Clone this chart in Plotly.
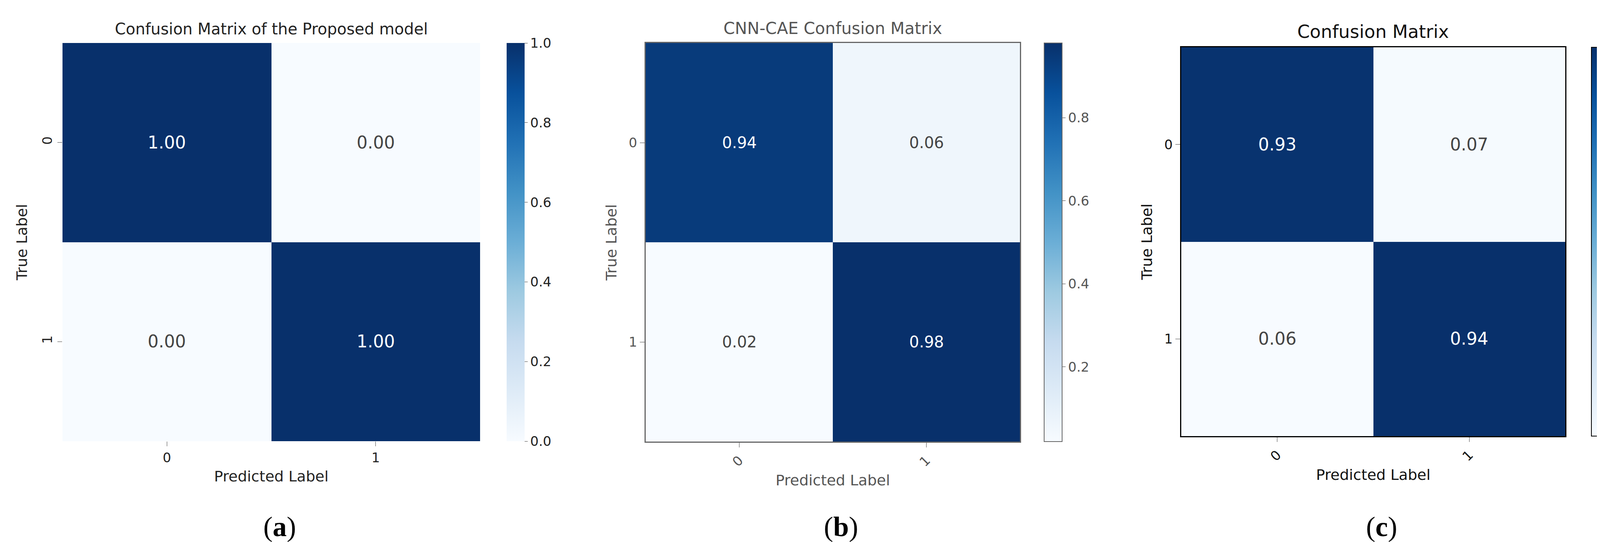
import plotly.graph_objects as go

labels = ["0", "1"]
cm_a = [[1.00, 0.00], [0.00, 1.00]]
cm_b = [[0.94, 0.06], [0.02, 0.98]]
cm_c = [[0.93, 0.07], [0.06, 0.94]]
titles = ["Confusion Matrix of the Proposed model", "CNN-CAE Confusion Matrix", "Confusion Matrix"]
panel_tags = ["a", "b", "c"]
cb_a = [0, 0.2, 0.4, 0.6, 0.8, 1.0]
cb_b = [0.2, 0.4, 0.6, 0.8]
cb_c = [0.1, 0.2, 0.3, 0.4, 0.5, 0.6, 0.7, 0.8, 0.9]

W, H = 4226, 1387
F = "DejaVu Sans"

panels = [
    dict(z=cm_a, x=(152, 1221), y=(102, 1121), cbx=1289, zr=(0, 1), cb=cb_a,
         frame=None, color="#222", tick=34, ann=44, title=40, xang=0, yang=-90),
    dict(z=cm_b, x=(1645, 2603), y=(102, 1122), cbx=2665, zr=(0.02, 0.98), cb=cb_b,
         frame="#666", color="#555", tick=34, ann=40, title=42, xang=-45, yang=0),
    dict(z=cm_c, x=(3016, 3999), y=(113, 1108), cbx=4066, zr=(0.06, 0.94), cb=cb_c,
         frame="#000", color="#111", tick=34, ann=44, title=46, xang=-45, yang=0),
]

fig = go.Figure()
layout = dict(width=W, height=H, margin=dict(l=0, r=0, t=0, b=0),
              paper_bgcolor="white", plot_bgcolor="white", annotations=[])
for i, p in enumerate(panels, start=1):
    xd = [p["x"][0] / W, p["x"][1] / W]
    yd = [1 - p["y"][1] / H, 1 - p["y"][0] / H]
    fig.add_trace(go.Heatmap(
        z=p["z"], x=labels, y=labels, colorscale="Blues", zmin=p["zr"][0], zmax=p["zr"][1],
        xaxis=f"x{i}", yaxis=f"y{i}",
        texttemplate="%{z:.2f}", textfont=dict(size=p["ann"], family=F),
        colorbar=dict(x=p["cbx"] / W, xanchor="left", xref="paper", xpad=0, ypad=0,
                      y=yd[0], yanchor="bottom",
                      len=yd[1] - yd[0], lenmode="fraction", thickness=46, thicknessmode="pixels",
                      tickvals=p["cb"], tickformat=".1f", ticks="outside", ticklen=8,
                      tickfont=dict(size=p["tick"], family=F, color=p["color"]),
                      outlinewidth=2 if p["frame"] else 0, outlinecolor=p["frame"] or "white"),
        showscale=True, hoverinfo="skip"))
    ax = "" if i == 1 else str(i)
    mirror = bool(p["frame"])
    common = dict(type="category", showgrid=False, zeroline=False, ticks="outside", ticklen=12,
                  tickfont=dict(size=p["tick"], family=F, color=p["color"]),
                  showline=mirror, linecolor=p["frame"] or "white", linewidth=3, mirror=mirror)
    layout[f"xaxis{ax}"] = dict(domain=xd, anchor=f"y{i}", tickangle=p["xang"],
                                title=dict(text="Predicted Label", font=dict(size=38, family=F, color=p["color"]), standoff=15),
                                **common)
    layout[f"yaxis{ax}"] = dict(domain=yd, anchor=f"x{i}", autorange="reversed", tickangle=p["yang"],
                                title=dict(text="True Label", font=dict(size=38, family=F, color=p["color"]), standoff=20),
                                **common)
    cx = (xd[0] + xd[1]) / 2
    layout["annotations"].append(dict(text=titles[i - 1], xref="paper", yref="paper",
                                      x=cx, xanchor="center", y=yd[1] + 0.008, yanchor="bottom", showarrow=False,
                                      font=dict(size=p["title"], family=F, color=p["color"])))
    layout["annotations"].append(dict(text="(<b>" + panel_tags[i - 1] + "</b>)", xref="paper", yref="paper",
                                      x=cx + 0.005, xanchor="center", y=1 - 1340 / H, yanchor="middle", showarrow=False,
                                      font=dict(size=72, family="Liberation Serif", color="black")))
fig.update_layout(**layout)
fig.write_html("out.html")
